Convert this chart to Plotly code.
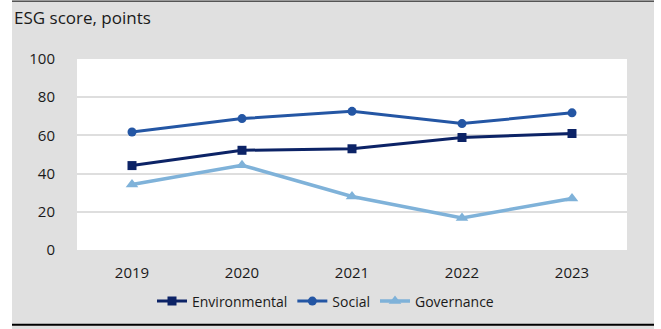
import plotly.graph_objects as go

years = ["2019", "2020", "2021", "2022", "2023"]
environmental = [44.2, 52.2, 53.0, 58.9, 61.0]
social = [61.8, 68.8, 72.6, 66.2, 71.8]
governance = [34.3, 44.4, 28.0, 16.8, 27.0]
y_ticks = [0, 20, 40, 60, 80, 100]

W, H = 661, 329
L, R, T, B = 77, 34, 59, 77
pw, ph = W - L - R, H - T - B

def px(x):
    return (x - L) / pw

def py(y):
    return (H - B - y) / ph

GREY = "#e0e0e0"
FONT = "Open Sans"

fig = go.Figure()
fig.add_trace(go.Scatter(x=years, y=environmental, name="Environmental", mode="lines+markers",
                         line=dict(color="#0c2366", width=3),
                         marker=dict(symbol="square", size=9, color="#0c2366")))
fig.add_trace(go.Scatter(x=years, y=social, name="Social", mode="lines+markers",
                         line=dict(color="#2456a4", width=3),
                         marker=dict(symbol="circle", size=9, color="#2456a4")))
fig.add_trace(go.Scatter(x=years, y=governance, name="Governance", mode="lines+markers",
                         line=dict(color="#7fb2d9", width=3.5),
                         marker=dict(symbol="triangle-up", size=11, color="#7fb2d9")))

shapes = [
    dict(type="rect", xref="paper", yref="paper", x0=px(0), x1=px(12), y0=py(-5), y1=py(335),
         fillcolor="white", line_width=0, layer="above"),
    dict(type="rect", xref="paper", yref="paper", x0=px(654), x1=px(665), y0=py(-5), y1=py(335),
         fillcolor="white", line_width=0, layer="above"),
    dict(type="line", xref="paper", yref="paper", x0=px(12), x1=px(654), y0=py(0.7), y1=py(0.7),
         line=dict(color="#555555", width=1.5), layer="above"),
    dict(type="line", xref="paper", yref="paper", x0=px(12), x1=px(654), y0=py(327.5), y1=py(327.5),
         line=dict(color="#000000", width=2), layer="above"),
]

fig.update_layout(
    width=W, height=H,
    margin=dict(l=L, r=R, t=T, b=B),
    paper_bgcolor=GREY, plot_bgcolor="white",
    font=dict(family=FONT, size=15, color="#1a1a1a"),
    showlegend=True,
    legend=dict(orientation="h", x=px(152), xanchor="left", y=py(304), yanchor="middle",
                bgcolor="rgba(0,0,0,0)", font=dict(size=14, family=FONT),
                itemwidth=30, tracegroupgap=0),
    shapes=shapes,
    annotations=[dict(text="ESG score, points", xref="paper", yref="paper",
                      x=px(12), y=py(17), xanchor="left", yanchor="middle",
                      showarrow=False, font=dict(size=17, family=FONT, color="#1a1a1a"))],
)
fig.update_xaxes(type="category", range=[-0.5, 4.5], showgrid=False, showline=False, zeroline=False,
                 ticks="outside", ticklen=9, tickcolor="rgba(0,0,0,0)",
                 tickfont=dict(size=15))
fig.update_yaxes(range=[0, 100], tickvals=y_ticks, showgrid=True, gridcolor="#dedede", gridwidth=2,
                 zeroline=False, showline=False, ticks="outside", ticklen=18,
                 tickcolor="rgba(0,0,0,0)", tickfont=dict(size=15))

fig.write_html("out.html")
